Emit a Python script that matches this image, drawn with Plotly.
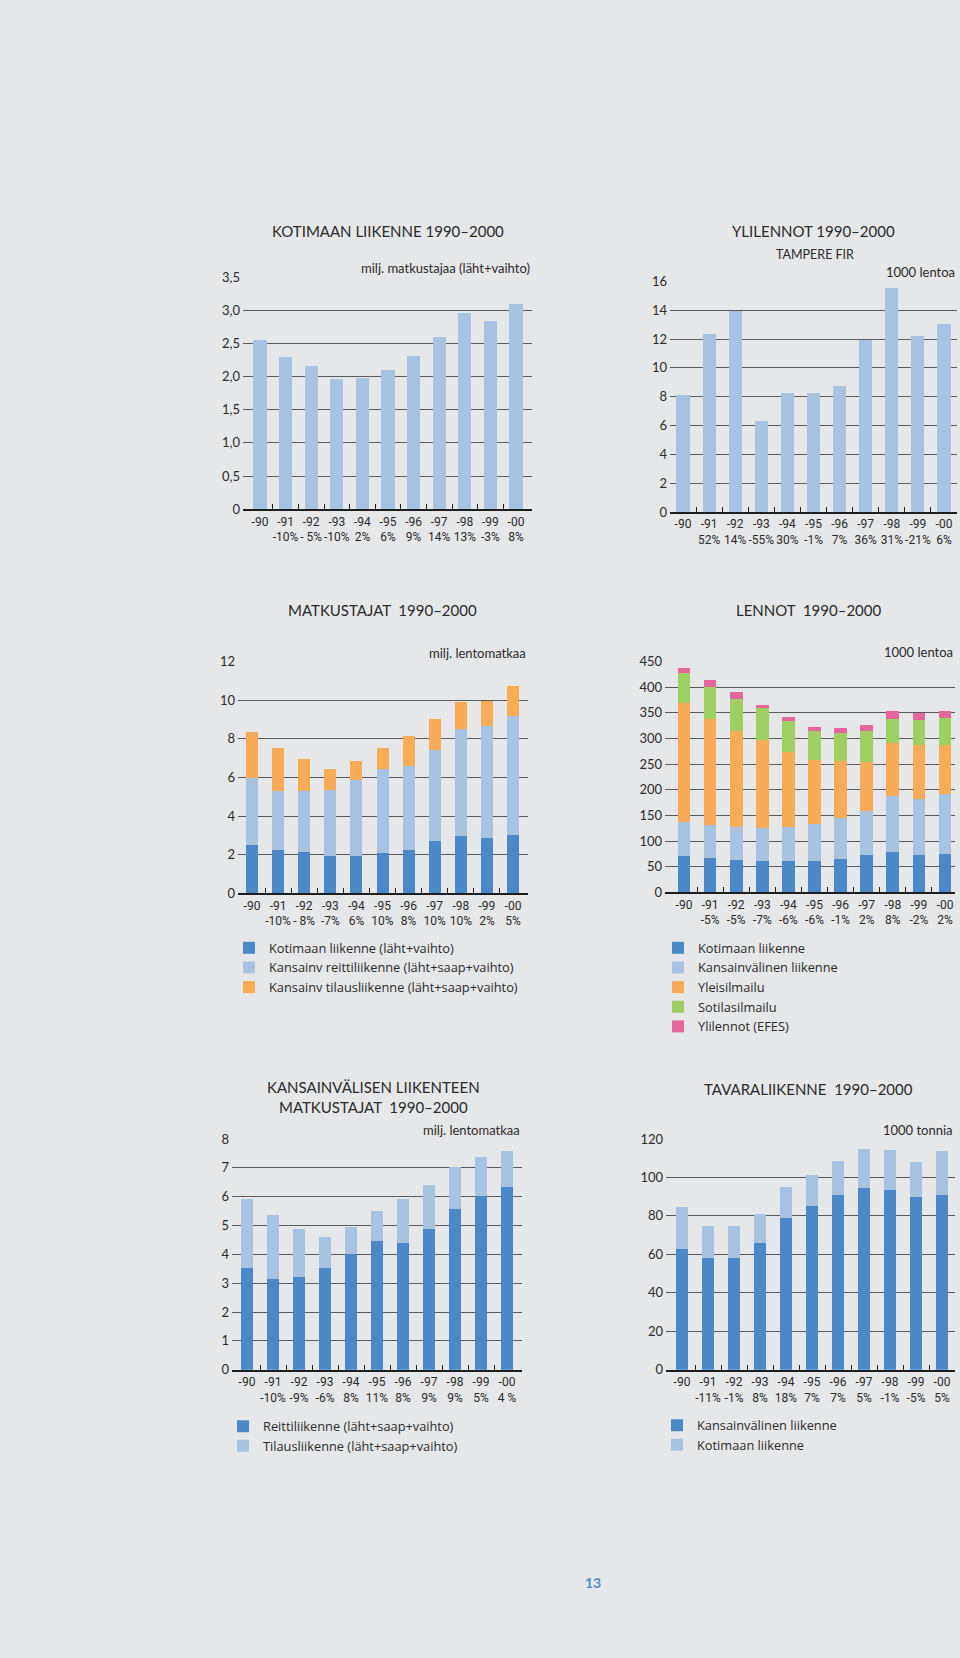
import plotly.graph_objects as go

# ---------------- data ----------------
years = ["-90", "-91", "-92", "-93", "-94", "-95", "-96", "-97", "-98", "-99", "-00"]

kot_pax = [2.55, 2.29, 2.16, 1.96, 1.98, 2.10, 2.30, 2.60, 2.95, 2.83, 3.09]
kot_pct = ["", "-10%", "- 5%", "-10%", "2%", "6%", "9%", "14%", "13%", "-3%", "8%"]

ylilennot = [8.1, 12.3, 13.9, 6.3, 8.2, 8.2, 8.7, 11.9, 15.5, 12.2, 13.0]
yli_pct = ["", "52%", "14%", "-55%", "30%", "-1%", "7%", "36%", "31%", "-21%", "6%"]

matk_kot = [2.55, 2.29, 2.17, 1.97, 1.97, 2.09, 2.29, 2.72, 2.99, 2.91, 3.06]
matk_reitti = [3.42, 3.03, 3.13, 3.40, 3.94, 4.39, 4.34, 4.72, 5.56, 5.76, 6.12]
matk_tilaus = [2.42, 2.25, 1.66, 1.07, 0.96, 1.06, 1.52, 1.62, 1.36, 1.33, 1.56]
matk_pct = ["", "-10%", "- 8%", "-7%", "6%", "10%", "8%", "10%", "10%", "2%", "5%"]

len_kot = [71, 67, 64, 61, 62, 61, 66, 73, 80, 73, 76]
len_kans = [67, 66, 64, 65, 66, 74, 80, 86, 108, 110, 116]
len_yleis = [233, 206, 187, 171, 146, 123, 110, 96, 104, 105, 97]
len_sotil = [58, 62, 63, 63, 61, 58, 56, 60, 47, 48, 52]
len_yli = [9, 13, 14, 6, 8, 8, 9, 12, 16, 14, 14]
len_pct = ["", "-5%", "-5%", "-7%", "-6%", "-6%", "-1%", "2%", "8%", "-2%", "2%"]

kv_reitti = [3.54, 3.14, 3.22, 3.52, 4.02, 4.48, 4.41, 4.89, 5.56, 6.04, 6.33]
kv_tilaus = [2.38, 2.21, 1.66, 1.07, 0.94, 1.03, 1.51, 1.52, 1.46, 1.32, 1.26]
kv_pct = ["", "-10%", "-9%", "-6%", "8%", "11%", "8%", "9%", "9%", "5%", "4 %"]

tav_kans = [63, 58, 58, 66, 79, 85, 91, 94.5, 93.5, 90, 91]
tav_kot = [21.5, 17, 17, 15, 16, 16.5, 17.5, 20.5, 21, 18, 23]
tav_pct = ["", "-11%", "-1%", "8%", "18%", "7%", "7%", "5%", "-1%", "-5%", "5%"]

# ---------------- style ----------------
W, H = 960, 1658
def fx(p): return p / W
def fy(p): return 1 - p / H

BG = "#e6e7e9"
LB = "#a8c3e2"; DB = "#4a88c8"; OR = "#f8ac57"; GR = "#9fce62"; PK = "#e5669a"
GRID = "#5a5a5a"; TXT = "#2a2a2a"
TICKFONT = dict(family="Roboto, Liberation Sans, sans-serif", size=12, color=TXT)
YFONT = dict(family="Lato, Open Sans, sans-serif", size=13, color=TXT)
TITLEFONT = dict(family="Lato, Open Sans, sans-serif", size=15, color=TXT)
UNITFONT = dict(family="Lato, Open Sans, sans-serif", size=13, color=TXT)
LEGFONT = dict(family="Open Sans, Lato, sans-serif", size=12.8, color=TXT)

idx = list(range(len(years)))

fig = go.Figure()

# panel geometry (pixels): x0, x1, y_top, y_bottom, first bar centre, step
panels = {
    1: dict(x0=243, x1=532, yt=272, yb=506, first=260, step=25.6, ymax=3.5,
            yt_vals=[0, 0.5, 1, 1.5, 2, 2.5, 3, 3.5],
            yt_text=["0", "0,5", "1,0", "1,5", "2,0", "2,5", "3,0", "3,5"], pct=kot_pct),
    2: dict(x0=670, x1=957, yt=276, yb=509, first=683, step=26.1, ymax=16,
            yt_vals=list(range(0, 17, 2)), yt_text=[str(v) for v in range(0, 17, 2)], pct=yli_pct),
    3: dict(x0=238, x1=528, yt=660, yb=894, first=252, step=26.1, ymax=12,
            yt_vals=list(range(0, 13, 2)), yt_text=[str(v) for v in range(0, 13, 2)], pct=matk_pct),
    4: dict(x0=665, x1=955, yt=660, yb=893, first=684, step=26.1, ymax=450,
            yt_vals=list(range(0, 451, 50)), yt_text=[str(v) for v in range(0, 451, 50)], pct=len_pct),
    5: dict(x0=232, x1=522, yt=1142, yb=1375, first=247, step=26.0, ymax=8,
            yt_vals=list(range(0, 9)), yt_text=[str(v) for v in range(0, 9)], pct=kv_pct),
    6: dict(x0=666, x1=955, yt=1142, yb=1375, first=682, step=26.0, ymax=120,
            yt_vals=list(range(0, 121, 20)), yt_text=[str(v) for v in range(0, 121, 20)], pct=tav_pct),
}

def add_bar(n, y, color, name, legend=None, width=0.5):
    suffix = "" if n == 1 else str(n)
    fig.add_trace(go.Bar(
        x=idx, y=y, name=name, marker=dict(color=color, line=dict(width=0)),
        width=width, xaxis="x" + suffix, yaxis="y" + suffix,
        showlegend=legend is not None, legend=legend or "legend",
        hoverinfo="skip"))

add_bar(1, kot_pax, LB, "Kotimaan liikenne", width=0.51)
add_bar(2, ylilennot, LB, "Ylilennot", width=0.5)

add_bar(3, matk_kot, DB, "Kotimaan liikenne (läht+vaihto)", "legend", 0.46)
add_bar(3, matk_reitti, LB, "Kansainv reittiliikenne (läht+saap+vaihto)", "legend", 0.46)
add_bar(3, matk_tilaus, OR, "Kansainv tilausliikenne (läht+saap+vaihto)", "legend", 0.46)

add_bar(4, len_kot, DB, "Kotimaan liikenne", "legend2", 0.49)
add_bar(4, len_kans, LB, "Kansainvälinen liikenne", "legend2", 0.49)
add_bar(4, len_yleis, OR, "Yleisilmailu", "legend2", 0.49)
add_bar(4, len_sotil, GR, "Sotilasilmailu", "legend2", 0.49)
add_bar(4, len_yli, PK, "Ylilennot (EFES)", "legend2", 0.49)

add_bar(5, kv_reitti, DB, "Reittiliikenne (läht+saap+vaihto)", "legend3", 0.46)
add_bar(5, kv_tilaus, LB, "Tilausliikenne (läht+saap+vaihto)", "legend3", 0.46)

add_bar(6, tav_kans, DB, "Kansainvälinen liikenne", "legend4", 0.49)
add_bar(6, tav_kot, LB, "Kotimaan liikenne", "legend4", 0.49)

layout = dict(
    width=W, height=H, margin=dict(l=0, r=0, t=0, b=0),
    paper_bgcolor=BG, plot_bgcolor=BG, barmode="stack", bargap=0,
    showlegend=True, hovermode=False,
)

for n, p in panels.items():
    suffix = "" if n == 1 else str(n)
    xr = [(p["x0"] - p["first"]) / p["step"], (p["x1"] - p["first"]) / p["step"]]
    ticktext = [f"{y}<br>{c}" for y, c in zip(years, p["pct"])]
    layout["xaxis" + suffix] = dict(
        domain=[fx(p["x0"]), fx(p["x1"])], range=xr, anchor="y" + suffix,
        tickmode="array", tickvals=idx, ticktext=ticktext, ticks="", tickangle=0,
        tickfont=TICKFONT, showline=True, linecolor="#1e1e1e", linewidth=2,
        showgrid=False, zeroline=False, fixedrange=True,
        minor=dict(tickmode="array", tickvals=[i + 0.5 for i in idx[:-1]],
                   ticks="inside", ticklen=5, tickwidth=1.2, tickcolor="#1e1e1e",
                   showgrid=False),
    )
    layout["yaxis" + suffix] = dict(
        domain=[fy(p["yb"]), fy(p["yt"])], range=[0, p["ymax"]], anchor="x" + suffix,
        tickmode="array", tickvals=p["yt_vals"], ticktext=p["yt_text"], ticks="",
        tickfont=YFONT, showgrid=True, gridcolor=GRID, gridwidth=1.3,
        zeroline=False, showline=False, fixedrange=True, ticklabelstandoff=2,
    )

def leg(left, top):
    return dict(x=fx(left), y=fy(top), xanchor="left", yanchor="top",
                bgcolor="rgba(0,0,0,0)", font=LEGFONT, traceorder="normal",
                tracegroupgap=0, itemclick=False, itemdoubleclick=False)

layout["legend"] = leg(229, 934)
layout["legend2"] = leg(658, 934)
layout["legend3"] = leg(223, 1417)
layout["legend4"] = leg(657, 1416)

ann = []
def text(t, x, y, font, xanchor="center", yanchor="middle"):
    ann.append(dict(text=t, x=fx(x), y=fy(y), xref="paper", yref="paper",
                    showarrow=False, font=font, xanchor=xanchor, yanchor=yanchor))

text("KOTIMAAN LIIKENNE 1990–2000", 388, 225, TITLEFONT)
text("YLILENNOT 1990–2000", 813, 225, TITLEFONT)
text("TAMPERE FIR", 815, 249, dict(TITLEFONT, size=12.5))
text("MATKUSTAJAT  1990–2000", 382, 608, TITLEFONT)
text("LENNOT  1990–2000", 808, 608, TITLEFONT)
text("KANSAINVÄLISEN LIIKENTEEN<br>MATKUSTAJAT  1990–2000", 373, 1100, TITLEFONT)
text("TAVARALIIKENNE  1990–2000", 808, 1092, TITLEFONT)

text("milj. matkustajaa (läht+vaihto)", 532, 263, UNITFONT, xanchor="right")
text("1000 lentoa", 957, 267, UNITFONT, xanchor="right")
text("milj. lentomatkaa", 528, 651, UNITFONT, xanchor="right")
text("1000 lentoa", 955, 650, UNITFONT, xanchor="right")
text("milj. lentomatkaa", 522, 1133, UNITFONT, xanchor="right")
text("1000 tonnia", 955, 1133, UNITFONT, xanchor="right")

text("<b>13</b>", 593, 1590, dict(family="Lato, sans-serif", size=14, color="#5a8cc4"))

layout["annotations"] = ann
fig.update_layout(**layout)

fig.write_html("out.html")
